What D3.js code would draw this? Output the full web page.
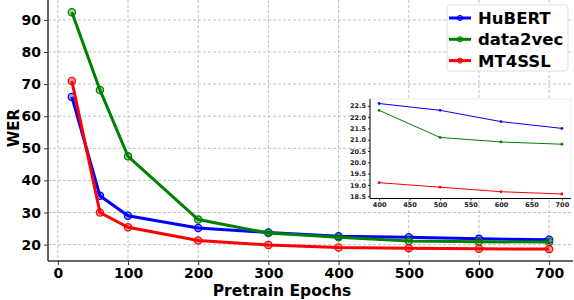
<!DOCTYPE html>
<html>
<head>
<meta charset="utf-8">
<script src="https://cdn.jsdelivr.net/npm/d3@7"></script>
<style>
	body { margin: 0; background: #fff; }
	svg text { font-family: "DejaVu Sans", sans-serif; font-weight: bold; }
</style>
</head>
<body>
<svg id="chart" width="574" height="300"></svg>
<script>

var epochs = [20, 60, 100, 200, 300, 400, 500, 600, 700];
var hubert = [66.0, 35.2, 29.0, 25.2, 23.8, 22.6, 22.3, 21.8, 21.5];
var data2vec = [92.4, 68.2, 47.5, 27.8, 23.6, 22.3, 21.1, 20.9, 20.8];
var mt4ssl = [71.0, 30.0, 25.4, 21.3, 19.9, 19.1, 18.9, 18.7, 18.6];

var xTicks = [0, 100, 200, 300, 400, 500, 600, 700];
var yTicks = [20, 30, 40, 50, 60, 70, 80, 90];
var insetXTicks = [400, 450, 500, 550, 600, 650, 700];
var insetYTicks = [18.5, 19.0, 19.5, 20.0, 20.5, 21.0, 21.5, 22.0, 22.5];

var seriesNames = ["HuBERT", "data2vec", "MT4SSL"];
var seriesColors = ["#0000ff", "#008000", "#ff0000"];

var series = [hubert, data2vec, mt4ssl].map(function (vals, i) {
	return {
		name: seriesNames[i],
		color: seriesColors[i],
		points: vals.map(function (v, j) { return { x: epochs[j], y: v }; })
	};
});

var svg = d3.select("#chart");

var x = d3.scaleLinear().domain([-14, 734]).range([48, 573]);
var y = d3.scaleLinear().domain([14.9, 96.2]).range([261, 0]);

// grid
var grid = svg.append("g").attr("class", "grid");
grid.selectAll(".gx").data(xTicks).enter().append("line")
	.attr("x1", function (d) { return x(d); }).attr("x2", function (d) { return x(d); })
	.attr("y1", 0).attr("y2", 261)
	.attr("stroke", "#b0b0b0").attr("stroke-width", 0.8).attr("stroke-dasharray", "3,2");
grid.selectAll(".gy").data(yTicks).enter().append("line")
	.attr("y1", function (d) { return y(d); }).attr("y2", function (d) { return y(d); })
	.attr("x1", 48).attr("x2", 573)
	.attr("stroke", "#b0b0b0").attr("stroke-width", 0.8).attr("stroke-dasharray", "3,2");

// axes
var xAxis = svg.append("g").attr("transform", "translate(0,261)")
	.call(d3.axisBottom(x).tickValues(xTicks).tickSize(4).tickPadding(3));
var yAxis = svg.append("g").attr("transform", "translate(48,0)")
	.call(d3.axisLeft(y).tickValues(yTicks).tickSize(4).tickPadding(3));

[xAxis, yAxis].forEach(function (a) {
	a.select(".domain").attr("stroke", "#333").attr("stroke-width", 1.5);
	a.selectAll(".tick line").attr("stroke", "#333").attr("stroke-width", 1);
	a.selectAll(".tick text").attr("fill", "#000").style("font-size", "14px");
});
// keep x domain line only, no end caps
xAxis.select(".domain").attr("d", "M48,0H573");
yAxis.select(".domain").attr("d", "M0,0V261");

svg.append("text").attr("x", 282).attr("y", 296)
	.attr("text-anchor", "middle").style("font-size", "15.5px").text("Pretrain Epochs");
svg.append("text").attr("transform", "translate(19,128) rotate(-90)")
	.attr("text-anchor", "middle").style("font-size", "15px").text("WER");

// lines
var line = d3.line()
	.x(function (d) { return x(d.x); })
	.y(function (d) { return y(d.y); });

series.forEach(function (s) {
	var g = svg.append("g");
	g.append("path").datum(s.points)
		.attr("d", line).attr("fill", "none")
		.attr("stroke", s.color).attr("stroke-width", 3);
	g.selectAll("circle").data(s.points).enter().append("circle")
		.attr("cx", function (d) { return x(d.x); })
		.attr("cy", function (d) { return y(d.y); })
		.attr("r", 3.6)
		.attr("fill", s.color).attr("fill-opacity", 0.35)
		.attr("stroke", s.color).attr("stroke-width", 1.3);
});

// inset
var ix = d3.scaleLinear().domain([385, 715]).range([370, 571]);
var iy = d3.scaleLinear().domain([18.4, 22.8]).range([198.5, 99]);

var inset = svg.append("g").attr("class", "inset");
inset.append("rect").attr("x", 370).attr("y", 99).attr("width", 201).attr("height", 99.5)
	.attr("fill", "#fff").attr("stroke", "#e6e6e6").attr("stroke-width", 0.8);

var ixAxis = inset.append("g").attr("transform", "translate(0,198.5)")
	.call(d3.axisBottom(ix).tickValues(insetXTicks).tickSize(2).tickPadding(2));
var iyAxis = inset.append("g").attr("transform", "translate(370,0)")
	.call(d3.axisLeft(iy).tickValues(insetYTicks).tickSize(2).tickPadding(2).tickFormat(d3.format(".1f")));
[ixAxis, iyAxis].forEach(function (a) {
	a.select(".domain").attr("stroke", "#000").attr("stroke-width", 1);
	a.selectAll(".tick line").attr("stroke", "#000").attr("stroke-width", 0.8);
	a.selectAll(".tick text").attr("fill", "#222").style("font-size", "6.5px");
});
ixAxis.select(".domain").attr("d", "M370,0H571");
iyAxis.select(".domain").attr("d", "M0,99V198.5");

var iline = d3.line()
	.x(function (d) { return ix(d.x); })
	.y(function (d) { return iy(d.y); });

series.forEach(function (s) {
	var pts = s.points.filter(function (d) { return d.x >= 400; });
	inset.append("path").datum(pts)
		.attr("d", iline).attr("fill", "none")
		.attr("stroke", s.color).attr("stroke-width", 1);
	inset.selectAll(".m" + s.name).data(pts).enter().append("circle")
		.attr("cx", function (d) { return ix(d.x); })
		.attr("cy", function (d) { return iy(d.y); })
		.attr("r", 1.4).attr("fill", s.color);
});

// legend
var legend = svg.append("g").attr("transform", "translate(447,5)");
legend.append("rect").attr("width", 121).attr("height", 66).attr("rx", 2.5)
	.attr("fill", "#fff").attr("fill-opacity", 0.9)
	.attr("stroke", "#d6d6d6").attr("stroke-width", 0.8);

var items = legend.selectAll(".item").data(series).enter().append("g")
	.attr("class", "item")
	.attr("transform", function (d, i) { return "translate(0," + (13 + i * 21.3) + ")"; });
items.append("line").attr("x1", 2).attr("x2", 24).attr("y1", 0).attr("y2", 0)
	.attr("stroke", function (d) { return d.color; }).attr("stroke-width", 3);
items.append("circle").attr("cx", 13).attr("cy", 0).attr("r", 2.6)
	.attr("fill", function (d) { return d.color; }).attr("fill-opacity", 0.35)
	.attr("stroke", function (d) { return d.color; }).attr("stroke-width", 1);
items.append("text").attr("x", 31).attr("y", 6)
	.style("font-size", "16.5px")
	.text(function (d) { return d.name; });

</script>
</body>
</html>
